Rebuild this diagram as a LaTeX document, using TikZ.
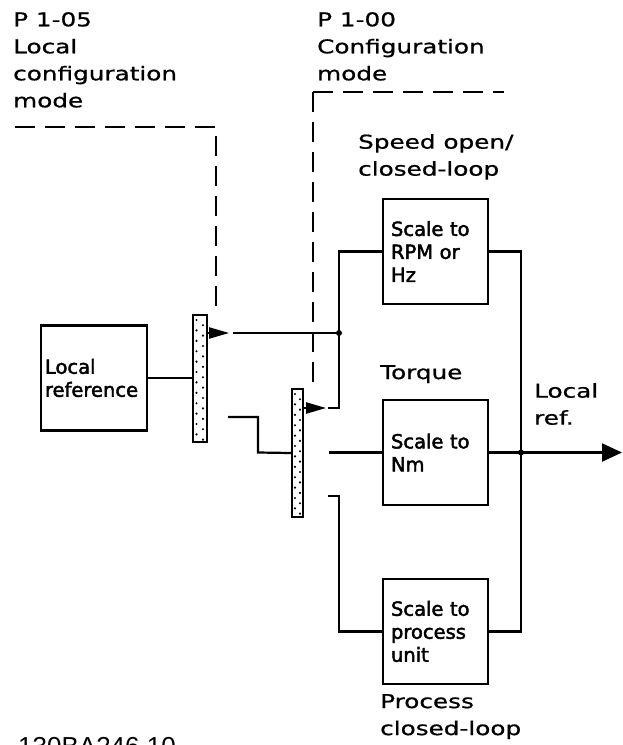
\documentclass[tikz,border=0pt]{standalone}
\usepackage{fontspec}
\setmainfont{DejaVu Sans}[FakeStretch=1.3,FakeBold=0.8]
\newfontfamily\boxfont{DejaVu Sans}[FakeBold=2.2]
\newfontfamily\codefont{Liberation Sans}
\usetikzlibrary{arrows.meta}

\tikzset{
  wire/.style={line width=2.2pt},
  ctrl/.style={line width=2.2pt,dash pattern=on 20pt off 10pt},
  block/.style={draw,line width=2.2pt,minimum height=105pt,inner xsep=8pt,
    text width=89pt,align=left,font=\boxfont\fontsize{19.5}{23}\selectfont},
  lbl/.style={anchor=north west,inner sep=0pt,align=left,
    font=\fontsize{19}{27}\selectfont},
  switchbar/.style={draw,fill=white,line width=2.2pt,inner sep=0pt,minimum height=127pt},
  contact/.style={line width=2.2pt,-{Triangle[length=20pt,width=11pt]}},
}

\begin{document}
\begin{tikzpicture}[x=1pt,y=-1pt]
	\useasboundingbox (0,0) rectangle (622,745);

	% blocks
	\node[block,inner xsep=4pt,text width=98pt] (lref) at (94,378) {Local\\reference};
	\node[block] (rpm)  at (435.5,251.5) {Scale to\\RPM or\\Hz};
	\node[block] (nm)   at (435.5,452.5) {Scale to\\Nm};
	\node[block] (proc) at (435.5,631.5) {Scale to\\process\\unit};

	% switches
	\node[switchbar,minimum width=14pt] (sw1) at (200,378.5) {};
	\node[switchbar,minimum width=11pt,minimum height=128pt] (sw2) at (297.5,453) {};
	\foreach \k in {0,...,23} {
		\pgfmathsetmacro{\dx}{mod(\k,2)==0 ? 196.5 : 203}
		\fill (\dx,{320+5.2*\k}) circle (1.2pt);
	}
	\foreach \k in {0,...,23} {
		\pgfmathsetmacro{\dx}{mod(\k,2)==0 ? 295 : 300}
		\fill (\dx,{394+5.2*\k}) circle (1.2pt);
	}

	% texts
	\node[lbl] (p105)   at (13,12)   {P 1-05\\Local\\configuration\\mode};
	\node[lbl] (p100)   at (317,12)  {P 1-00\\Configuration\\mode};
	\node[lbl] (speed)  at (358,134) {Speed open/\\closed-loop};
	\node[lbl] (torque) at (380,365) {Torque};
	\node[lbl] (lout)   at (534,383) {Local\\ref.};
	\node[lbl] (pcl)    at (380,694) {Process\\closed-loop};
	\node[anchor=base west,inner sep=0pt,font=\codefont\fontsize{26}{26}\selectfont]
		(drawno) at (18,755) {130BA246.10};

	% points
	\coordinate (j1) at (339,333);
	\coordinate (j2) at (521,452.5);
	\coordinate (out) at (622,452.5);
	\coordinate (a1) at (233,333);
	\coordinate (b1) at (228,417);
	\coordinate (a2) at (328,408);
	\coordinate (b2) at (329,452.5);
	\coordinate (c2) at (328,496);
	\coordinate (m1) at (15,127);
	\coordinate (m2) at (216,315);
	\coordinate (n0) at (313,92);
	\coordinate (n1) at (504,92);
	\coordinate (n2) at (313,390);

	% mode lines
	\draw[ctrl] (m1) -| (m2);
	\draw[ctrl] (n0) -- (n1);
	\draw[ctrl] (n0) -- (n2);

	% wiring
	\draw[wire] (lref.east) -- (lref.east -| sw1.west);
	\draw[contact] (sw1.east |- j1) -- ++(21,0);
	\draw[wire] (a1) -- (j1);
	\draw[wire] (b1) -| (258,452.5) -- (sw2.west);
	\draw[contact] (sw2.east |- a2) -- ++(22,0);
	\draw[wire] (a2) -| (j1) |- (rpm.west);
	\draw[wire] (b2) -- (nm.west);
	\draw[wire] (c2) -- ++(11,0) |- (proc.west);
	\draw[wire] (rpm.east) -| (j2);
	\draw[wire] (proc.east) -| (j2);
	\draw[wire,-{Triangle[length=20pt,width=18pt]}] (nm.east) -- (out);
	\fill (j1) circle (3pt) (j2) circle (3pt);
\end{tikzpicture}
\end{document}
